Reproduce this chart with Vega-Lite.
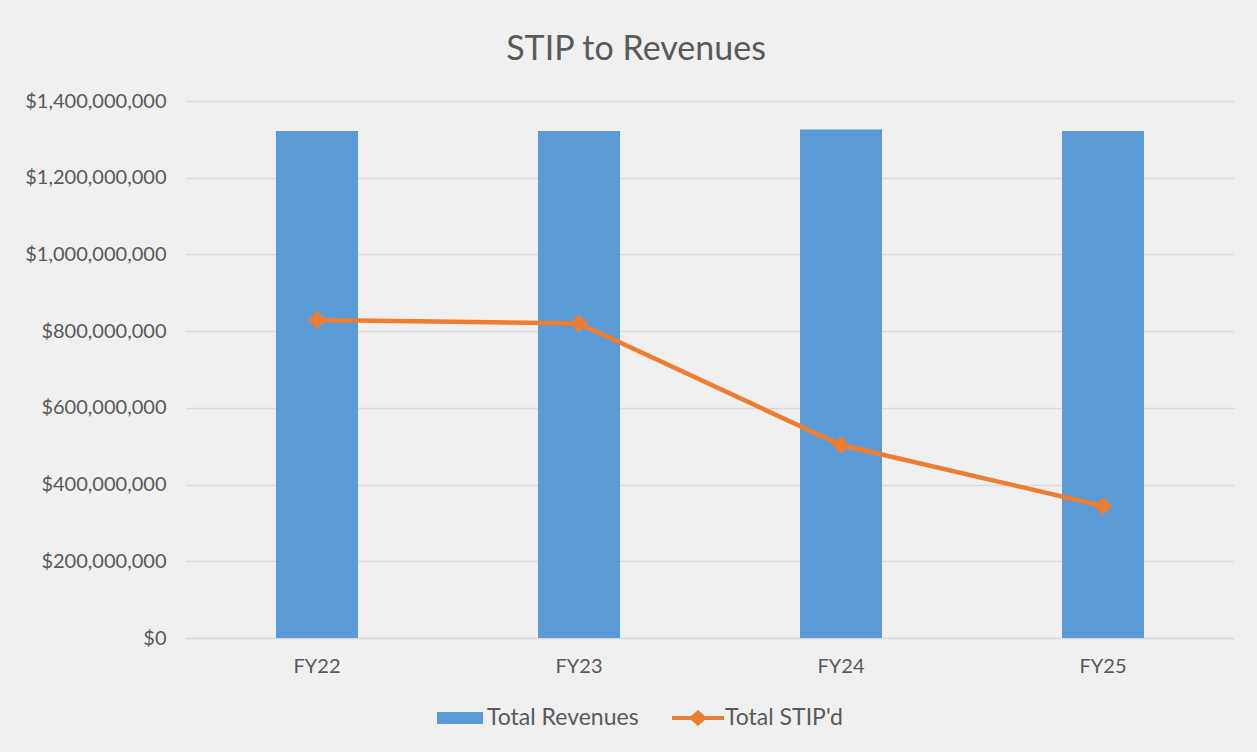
{
  "$schema": "https://vega.github.io/schema/vega-lite/v6.json",
  "width": 1048,
  "height": 537,
  "autosize": {"type": "none"},
  "padding": {"left": 186, "top": 101, "right": 23, "bottom": 114},
  "background": "#f0f0f0",
  "title": {
    "text": "STIP to Revenues",
    "fontSize": 34,
    "font": "Lato",
    "fontWeight": "normal",
    "color": "#595959",
    "offset": 24,
    "dx": -74,
    "anchor": "middle"
  },
  "data": {
    "values": [
      {"year": "FY22", "revenues": 1322000000, "stip": 829000000},
      {"year": "FY23", "revenues": 1322000000, "stip": 820000000},
      {"year": "FY24", "revenues": 1326000000, "stip": 503000000},
      {"year": "FY25", "revenues": 1322000000, "stip": 344000000}
    ]
  },
  "encoding": {
    "x": {
      "field": "year",
      "type": "nominal",
      "scale": {"paddingInner": 0, "paddingOuter": 0},
      "axis": {
        "title": null,
        "labelAngle": 0,
        "ticks": false,
        "domainColor": "#d9d9d9",
        "domainWidth": 1.5,
        "labelFont": "Lato",
        "labelFontSize": 20,
        "labelColor": "#595959",
        "labelPadding": 18
      }
    }
  },
  "layer": [
    {
      "mark": {"type": "bar", "size": 82, "color": "#5b9bd5"},
      "encoding": {
        "y": {
          "field": "revenues",
          "type": "quantitative",
          "scale": {"domain": [0, 1400000000]},
          "axis": {
            "title": null,
            "format": "$,.0f",
            "values": [0, 200000000, 400000000, 600000000, 800000000, 1000000000, 1200000000, 1400000000],
            "domain": false,
            "ticks": false,
            "gridColor": "#d9d9d9",
            "gridWidth": 1.5,
            "labelFont": "Lato",
            "labelFontSize": 20,
            "labelColor": "#595959",
            "labelPadding": 20
          }
        },
        "color": {
          "datum": "Total Revenues",
          "scale": {"domain": ["Total Revenues", "Total STIP'd"], "range": ["#5b9bd5", "#ed7d31"]},
          "legend": {
            "title": null,
            "orient": "none",
            "direction": "horizontal",
            "legendX": 251,
            "legendY": 594,
            "symbolSize": 2116,
            "labelOffset": 4,
            "columnPadding": 33,
            "labelFont": "Lato",
            "labelFontSize": 23,
            "labelColor": "#595959",
            "encode": {
              "symbols": {
                "update": {
                  "shape": {"signal": "datum.value === 'Total Revenues' ? 'M-1,-0.26H1V0.26H-1Z' : 'M-1.13,-0.09H-0.3L0,-0.35L0.3,-0.09H1.13V0.09H0.3L0,0.35L-0.3,0.09H-1.13Z'"},
                  "fill": {"signal": "datum.value === 'Total Revenues' ? '#5b9bd5' : '#ed7d31'"},
                  "stroke": {"value": "transparent"},
                  "strokeWidth": {"value": 0},
                  "opacity": {"value": 1}
                }
              }
            }
          }
        }
      }
    },
    {
      "mark": {"type": "line", "strokeWidth": 4.5, "color": "#ed7d31"},
      "encoding": {
        "y": {"field": "stip", "type": "quantitative"},
        "color": {"datum": "Total STIP'd"}
      }
    },
    {
      "mark": {"type": "point", "shape": "diamond", "filled": true, "size": 320, "opacity": 1, "color": "#ed7d31"},
      "encoding": {
        "y": {"field": "stip", "type": "quantitative"},
        "color": {"datum": "Total STIP'd"}
      }
    }
  ],
  "config": {
    "view": {"stroke": null}
  }
}
